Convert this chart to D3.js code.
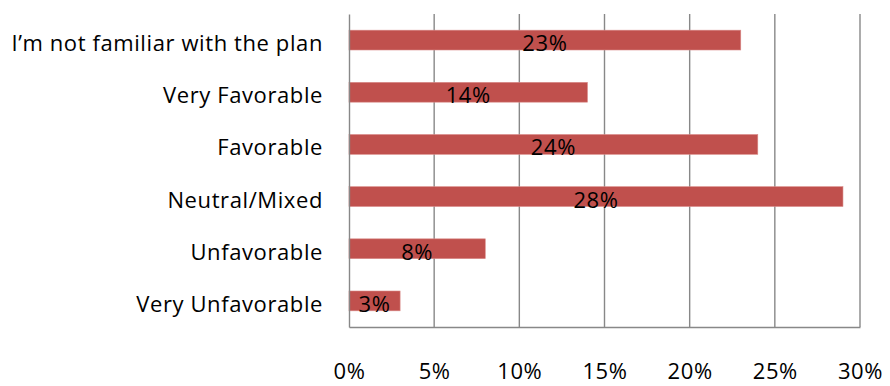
<!DOCTYPE html>
<html>
<head>
<meta charset="utf-8">
<script src="https://cdn.jsdelivr.net/npm/d3@7"></script>
<style>
  body { margin: 0; background: #fff; }
  svg text { font-family: "Open Sans", Lato, sans-serif; fill: #000; letter-spacing: 0.6px; }
</style>
</head>
<body>
<svg></svg>
<script>
var screen = {width: 890, height: 386}
var margins = {top: 14, right: 30, left: 349, bottom: 59}

// data
var categories = ["I\u2019m not familiar with the plan", "Very Favorable", "Favorable", "Neutral/Mixed", "Unfavorable", "Very Unfavorable"]
var values = [23, 14, 24, 29, 8, 3]
var valueLabels = ["23%", "14%", "24%", "28%", "8%", "3%"]
var xTicks = [0, 5, 10, 15, 20, 25, 30]

var fontFamily = "'Open Sans', Lato, sans-serif"
var fontSize = "22px"

var width = 860 - margins.left
var height = screen.height - margins.top - margins.bottom

var svg = d3.select("svg")
    .attr("width", screen.width)
    .attr("height", screen.height)

var graph = svg.append("g")
    .attr("id", "graph")
    .attr("transform", "translate(" + margins.left + "," + margins.top + ")")

var xScale = d3.scaleLinear()
    .domain([0, 30])
    .range([0, width])

var yScale = d3.scaleBand()
    .domain(categories)
    .range([0, height])
    .paddingInner(0.62)
    .paddingOuter(0.31)

// vertical gridlines
graph.selectAll(".grid")
    .data(xTicks.slice(1))
    .enter()
    .append("line")
    .attr("class", "grid")
    .attr("x1", function(d){return xScale(d)})
    .attr("x2", function(d){return xScale(d)})
    .attr("y1", 0)
    .attr("y2", height)
    .attr("stroke", "#888")
    .attr("stroke-width", 1.4)

// bars
graph.selectAll(".bar")
    .data(values)
    .enter()
    .append("rect")
    .attr("class", "bar")
    .attr("x", xScale(0))
    .attr("y", function(d, i){return yScale(categories[i])})
    .attr("width", function(d){return xScale(d) - xScale(0)})
    .attr("height", yScale.bandwidth())
    .attr("fill", "#C0504D")
    .attr("stroke", "#D98A88")
    .attr("stroke-width", 0.6)

// value labels
graph.selectAll(".vlabel")
    .data(valueLabels)
    .enter()
    .append("text")
    .attr("class", "vlabel")
    .attr("x", function(d, i){return xScale(values[i]) / 2})
    .attr("y", function(d, i){return yScale(categories[i]) + yScale.bandwidth() / 2 + 11})
    .attr("text-anchor", "middle")
    .style("font-size", fontSize)
    .text(function(d){return d})

// axes
var xAxis = d3.axisBottom(xScale)
    .tickValues(xTicks)
    .tickSize(0)
    .tickPadding(36)
    .tickFormat(function(d){return d + "%"})

var yAxis = d3.axisLeft(yScale)
    .tickSize(0)
    .tickPadding(26)

graph.append("g")
    .attr("id", "xAxis")
    .attr("transform", "translate(0," + height + ")")
    .call(xAxis)

graph.append("g")
    .attr("id", "yAxis")
    .call(yAxis)

d3.selectAll("#xAxis .domain, #yAxis .domain")
    .attr("stroke", "#888")
    .attr("stroke-width", 1.4)

d3.selectAll("#xAxis text, #yAxis text")
    .style("font-family", fontFamily)
    .style("font-size", fontSize)
    .attr("fill", "#000")

d3.selectAll("#yAxis text")
    .attr("dy", "0.5em")
</script>
</body>
</html>
